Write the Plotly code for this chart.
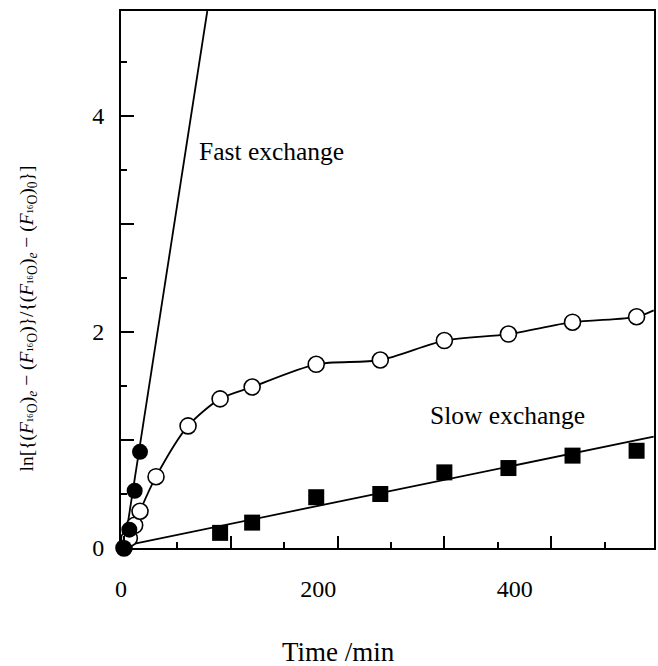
import plotly.graph_objects as go

# ---- data ----
t_open = [0, 5, 10, 15, 30, 60, 90, 120, 180, 240, 300, 360, 420, 480]
y_open = [0.0, 0.09, 0.21, 0.34, 0.66, 1.13, 1.38, 1.49, 1.70, 1.74, 1.92, 1.98, 2.09, 2.14]
# smooth curve drawn through open circles, continued to the frame edge
t_open_curve = t_open + [496]
y_open_curve = y_open + [2.20]

t_fast = [0, 5, 10, 15]
y_fast = [0.0, 0.17, 0.53, 0.89]
t_fast_fit = [0, 78]
y_fast_fit = [0.0, 4.97]

t_slow = [90, 120, 180, 240, 300, 360, 420, 480]
y_slow = [0.14, 0.235, 0.47, 0.50, 0.70, 0.74, 0.855, 0.90]
t_slow_fit = [0, 496]
y_slow_fit = [0.02, 1.03]

x_major = [0, 100, 200, 300, 400]
x_minor = [50, 150, 250, 350, 450]
x_label_pos = [-2.7, 182, 366]
x_label_txt = ["0", "200", "400"]
y_major = [0, 1, 2, 3, 4]
y_major_txt = ["0", "", "2", "", "4"]
y_minor = [0.5, 1.5, 2.5, 3.5, 4.5]

FONT = "Liberation Serif"

fig = go.Figure()
fig.add_trace(go.Scatter(x=t_fast_fit, y=y_fast_fit, mode="lines",
                         line=dict(color="black", width=1.8), showlegend=False))
fig.add_trace(go.Scatter(x=t_slow_fit, y=y_slow_fit, mode="lines",
                         line=dict(color="black", width=1.8), showlegend=False))
fig.add_trace(go.Scatter(x=t_open_curve, y=y_open_curve, mode="lines",
                         line=dict(color="black", width=1.8, shape="spline", smoothing=0.8),
                         showlegend=False))
fig.add_trace(go.Scatter(x=t_open, y=y_open, mode="markers", cliponaxis=False,
                         marker=dict(symbol="circle", size=16, color="white",
                                     line=dict(color="black", width=1.6)),
                         showlegend=False))
fig.add_trace(go.Scatter(x=t_slow, y=y_slow, mode="markers", cliponaxis=False,
                         marker=dict(symbol="square", size=16, color="black",
                                     line=dict(color="black", width=0)),
                         showlegend=False))
fig.add_trace(go.Scatter(x=t_fast, y=y_fast, mode="markers", cliponaxis=False,
                         marker=dict(symbol="circle", size=16, color="black",
                                     line=dict(color="black", width=0)),
                         showlegend=False))
# dummy trace to activate the label axis
fig.add_trace(go.Scatter(x=[None], y=[None], xaxis="x2", yaxis="y",
                         showlegend=False, hoverinfo="skip"))

fig.update_layout(
    width=658, height=666,
    margin=dict(l=121, r=2, t=11, b=118),
    plot_bgcolor="white", paper_bgcolor="white",
    font=dict(family=FONT, color="black"),
    xaxis=dict(range=[-2.8, 496.3], showgrid=False, zeroline=False,
               showline=True, linecolor="black", linewidth=2, mirror=True,
               tickmode="array", tickvals=x_major, ticks="inside", ticklen=12,
               tickwidth=2, tickcolor="black", showticklabels=False,
               minor=dict(tickmode="array", tickvals=x_minor, ticks="inside",
                          ticklen=6, tickwidth=2, tickcolor="black")),
    xaxis2=dict(range=[-2.8, 496.3], overlaying="x", anchor="y", side="bottom",
                showgrid=False, zeroline=False, showline=False,
                tickmode="array", tickvals=x_label_pos, ticktext=x_label_txt,
                ticks="", tickfont=dict(family=FONT, size=24),
                ticklabelstandoff=24),
    yaxis=dict(range=[0, 4.97], showgrid=False, zeroline=False,
               showline=True, linecolor="black", linewidth=2, mirror=True,
               tickmode="array", tickvals=y_major, ticktext=y_major_txt,
               ticks="inside", ticklen=13, tickwidth=2, tickcolor="black",
               tickfont=dict(family=FONT, size=24), ticklabelstandoff=10,
               minor=dict(tickmode="array", tickvals=y_minor, ticks="inside",
                          ticklen=6, tickwidth=2, tickcolor="black")),
)

fig.add_annotation(x=138, y=3.67, xref="x", yref="y", text="Fast exchange",
                   showarrow=False, font=dict(family=FONT, size=25.5))
fig.add_annotation(x=358.7, y=1.23, xref="x", yref="y", text="Slow exchange",
                   showarrow=False, font=dict(family=FONT, size=25.5))
fig.add_annotation(x=0.409, y=-0.194, xref="paper", yref="paper", text="Time /min",
                   showarrow=False, xanchor="center", yanchor="middle",
                   font=dict(family=FONT, size=27))
ytitle = ("ln[{(<i>F</i><sub>¹⁶O</sub>)<sub><i>e</i></sub> − (<i>F</i><sub>¹⁶O</sub>)}"
          "/{(<i>F</i><sub>¹⁶O</sub>)<sub><i>e</i></sub> − (<i>F</i><sub>¹⁶O</sub>)<sub>0</sub>}]")
fig.add_annotation(x=-0.174, y=0.428, xref="paper", yref="paper", text=ytitle,
                   showarrow=False, textangle=-90, xanchor="center", yanchor="middle",
                   font=dict(family=FONT, size=19.5))

fig.write_html("out.html")
